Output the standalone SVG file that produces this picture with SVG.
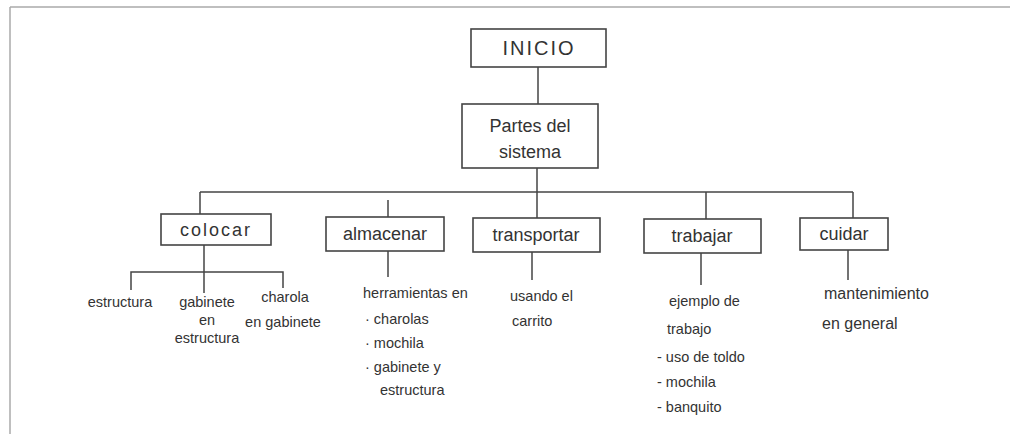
<svg xmlns="http://www.w3.org/2000/svg" width="1017" height="434" viewBox="0 0 1017 434">
<style>
.box{fill:#fff;stroke:#444;stroke-width:1.6}
.ln{fill:none;stroke:#444;stroke-width:1.5}
.frame{stroke:#aaa;stroke-width:1.5}
.t{font-family:"Liberation Sans",Arial,sans-serif;fill:#333;text-anchor:middle}
.h{font-size:20px;letter-spacing:2px}
.m{font-size:18px}
.s{font-size:14.5px}
.l{text-anchor:start}
</style>
<rect width="1017" height="434" fill="#fff"/>
<line class="frame" x1="10" y1="7" x2="1010" y2="7"/>
<line class="frame" x1="10" y1="7" x2="10" y2="434"/>
<g id="connectors">
<path class="ln" d="M538 67V104"/>
<path class="ln" d="M537 168V218"/>
<path class="ln" d="M200 192H853"/>
<path class="ln" d="M200 192V214"/>
<path class="ln" d="M388 200V217"/>
<path class="ln" d="M706 192V219"/>
<path class="ln" d="M853 192V218"/>
<path class="ln" d="M204 245V293"/>
<path class="ln" d="M131 290V272H283V288"/>
<path class="ln" d="M388 251V277"/>
<path class="ln" d="M532 252V280"/>
<path class="ln" d="M701 253V285"/>
<path class="ln" d="M848 250V280"/>
</g>
<g id="inicio">
<rect class="box" x="471" y="29" width="135" height="38"/>
<text class="t h" x="539" y="55">INICIO</text>
</g>
<g id="partes">
<rect class="box" x="462" y="104" width="136" height="64"/>
<text class="t m" x="530" y="132">Partes del</text>
<text class="t m" x="530" y="158">sistema</text>
</g>
<g id="colocar">
<rect class="box" x="161" y="214" width="110" height="31"/>
<text class="t m" x="216" y="236" style="letter-spacing:2px">colocar</text>
</g>
<g id="almacenar">
<rect class="box" x="326" y="217" width="118" height="34"/>
<text class="t m" x="385" y="240">almacenar</text>
</g>
<g id="transportar">
<rect class="box" x="473" y="218" width="127" height="34"/>
<text class="t m" x="536" y="241">transportar</text>
</g>
<g id="trabajar">
<rect class="box" x="644" y="219" width="117" height="34"/>
<text class="t m" x="702" y="242">trabajar</text>
</g>
<g id="cuidar">
<rect class="box" x="800" y="218" width="88" height="32"/>
<text class="t m" x="844" y="240">cuidar</text>
</g>
<g id="estructura">
<text class="t s" x="120" y="307">estructura</text>
</g>
<g id="gabinete-en-estructura">
<text class="t s" x="207" y="307">gabinete</text>
<text class="t s" x="207" y="325">en</text>
<text class="t s" x="207" y="343">estructura</text>
</g>
<g id="charola-en-gabinete">
<text class="t s" x="285" y="302">charola</text>
<text class="t s" x="283" y="327">en gabinete</text>
</g>
<g id="herramientas">
<text class="t s l" x="363" y="298">herramientas en</text>
<text class="t s l" x="365" y="324">· charolas</text>
<text class="t s l" x="365" y="348">· mochila</text>
<text class="t s l" x="365" y="372">· gabinete y</text>
<text class="t s l" x="380" y="395">estructura</text>
</g>
<g id="carrito">
<text class="t s l" x="510" y="301">usando el</text>
<text class="t s l" x="512" y="326">carrito</text>
</g>
<g id="ejemplo">
<text class="t s l" x="669" y="306">ejemplo de</text>
<text class="t s l" x="667" y="334">trabajo</text>
<text class="t s l" x="657" y="362">- uso de toldo</text>
<text class="t s l" x="657" y="387">- mochila</text>
<text class="t s l" x="657" y="412">- banquito</text>
</g>
<g id="mantenimiento">
<text class="t s l" x="824" y="299" style="font-size:16px">mantenimiento</text>
<text class="t s l" x="822" y="329" style="font-size:16px">en general</text>
</g>
</svg>
